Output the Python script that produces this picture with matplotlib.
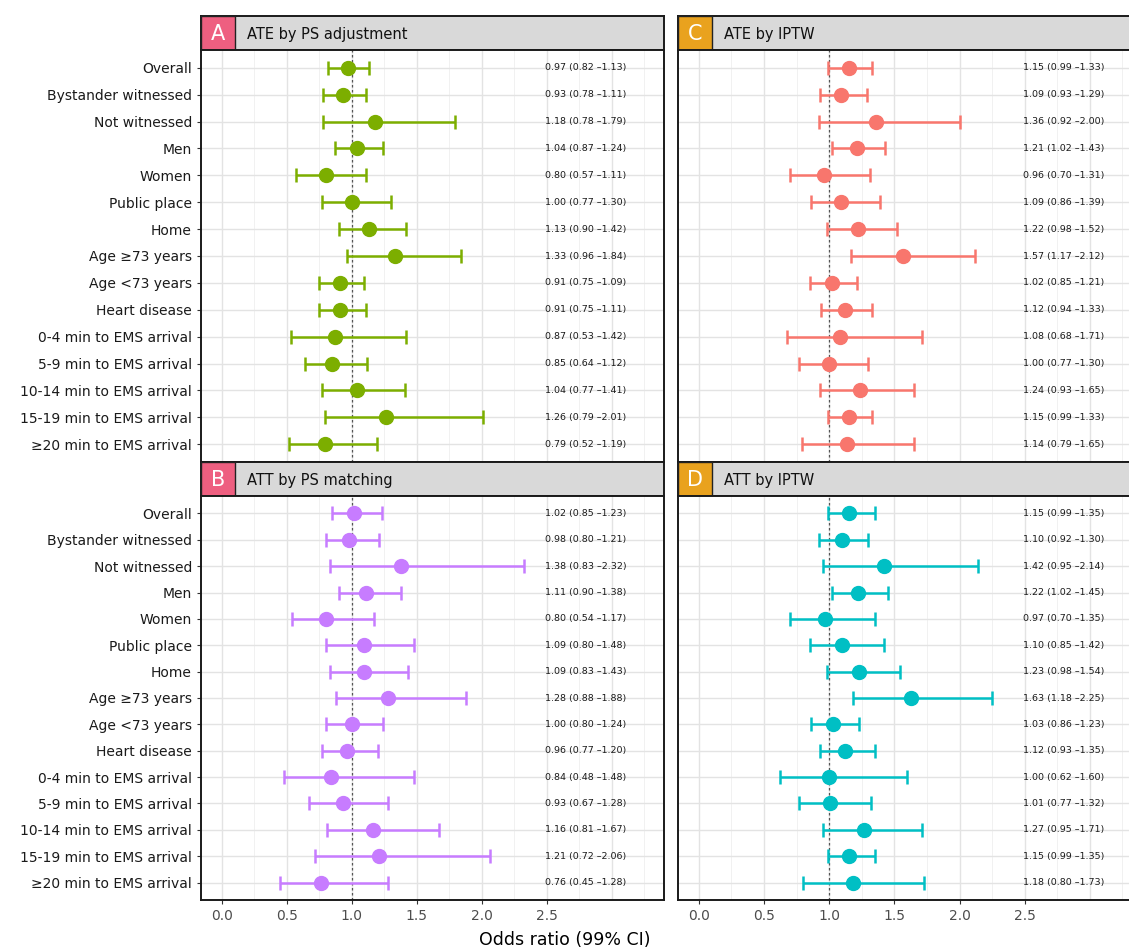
import numpy as np
import matplotlib.pyplot as plt
from matplotlib.patches import Rectangle

categories = ['Overall', 'Bystander witnessed', 'Not witnessed', 'Men', 'Women',
              'Public place', 'Home', 'Age \u226573 years', 'Age <73 years',
              'Heart disease', '0-4 min to EMS arrival', '5-9 min to EMS arrival',
              '10-14 min to EMS arrival', '15-19 min to EMS arrival',
              '\u226520 min to EMS arrival']

# A: ATE by PS adjustment
a_or = [0.97, 0.93, 1.18, 1.04, 0.80, 1.00, 1.13, 1.33, 0.91, 0.91, 0.87, 0.85, 1.04, 1.26, 0.79]
a_lo = [0.82, 0.78, 0.78, 0.87, 0.57, 0.77, 0.90, 0.96, 0.75, 0.75, 0.53, 0.64, 0.77, 0.79, 0.52]
a_hi = [1.13, 1.11, 1.79, 1.24, 1.11, 1.30, 1.42, 1.84, 1.09, 1.11, 1.42, 1.12, 1.41, 2.01, 1.19]

# B: ATT by PS matching
b_or = [1.02, 0.98, 1.38, 1.11, 0.80, 1.09, 1.09, 1.28, 1.00, 0.96, 0.84, 0.93, 1.16, 1.21, 0.76]
b_lo = [0.85, 0.80, 0.83, 0.90, 0.54, 0.80, 0.83, 0.88, 0.80, 0.77, 0.48, 0.67, 0.81, 0.72, 0.45]
b_hi = [1.23, 1.21, 2.32, 1.38, 1.17, 1.48, 1.43, 1.88, 1.24, 1.20, 1.48, 1.28, 1.67, 2.06, 1.28]

# C: ATE by IPTW
c_or = [1.15, 1.09, 1.36, 1.21, 0.96, 1.09, 1.22, 1.57, 1.02, 1.12, 1.08, 1.00, 1.24, 1.15, 1.14]
c_lo = [0.99, 0.93, 0.92, 1.02, 0.70, 0.86, 0.98, 1.17, 0.85, 0.94, 0.68, 0.77, 0.93, 0.99, 0.79]
c_hi = [1.33, 1.29, 2.00, 1.43, 1.31, 1.39, 1.52, 2.12, 1.21, 1.33, 1.71, 1.30, 1.65, 1.33, 1.65]

# D: ATT by IPTW
d_or = [1.15, 1.10, 1.42, 1.22, 0.97, 1.10, 1.23, 1.63, 1.03, 1.12, 1.00, 1.01, 1.27, 1.15, 1.18]
d_lo = [0.99, 0.92, 0.95, 1.02, 0.70, 0.85, 0.98, 1.18, 0.86, 0.93, 0.62, 0.77, 0.95, 0.99, 0.80]
d_hi = [1.35, 1.30, 2.14, 1.45, 1.35, 1.42, 1.54, 2.25, 1.23, 1.35, 1.60, 1.32, 1.71, 1.35, 1.73]

xticks = [0.0, 0.5, 1.0, 1.5, 2.0, 2.5]

W, H = 1129, 951
fig = plt.figure(figsize=(W / 100, H / 100), dpi=100)


def px_axes(left, top, right, bottom):
    return fig.add_axes([left / W, 1 - bottom / H, (right - left) / W, (bottom - top) / H])


def draw_panel(left, right, top, bottom, letter, lcolor, title, color,
               ors, los, his, show_y, show_x):
    # strip
    strip = px_axes(left, top, right, top + 34)
    strip.set_xlim(0, 1)
    strip.set_ylim(0, 1)
    strip.set_facecolor('#D9D9D9')
    strip.set_xticks([])
    strip.set_yticks([])
    for s in strip.spines.values():
        s.set_linewidth(1.4)
        s.set_color('#1A1A1A')
    bw = 34 / (right - left)
    strip.add_patch(Rectangle((0, 0), bw, 1, facecolor=lcolor, edgecolor='#222222',
                              lw=1.0, transform=strip.transAxes, zorder=3))
    strip.text(bw / 2, 0.47, letter, color='white', fontsize=15, ha='center',
               va='center', transform=strip.transAxes, zorder=4)
    strip.text(bw + 0.025, 0.47, title, fontsize=10.5, ha='left', va='center',
               transform=strip.transAxes, color='#111111')

    ax = px_axes(left, top + 34, right, bottom)
    n = len(categories)
    y = np.arange(n)
    for gx in np.arange(0.25, 3.5, 0.5):
        ax.axvline(gx, color='#EFEFEF', lw=0.6, zorder=0)
    for gx in np.arange(0, 3.1, 0.5):
        ax.axvline(gx, color='#E3E3E3', lw=1.0, zorder=0)
    for gy in y:
        ax.axhline(gy, color='#E3E3E3', lw=1.0, zorder=0)
    ax.axvline(1.0, color='#555555', lw=0.9, ls=(0, (2, 2)), zorder=1)
    o = np.array(ors)
    err = [o - np.array(los), np.array(his) - o]
    ax.errorbar(o, y, xerr=err, fmt='o', color=color, ms=10, lw=1.8,
                capsize=5, capthick=1.8, zorder=3)
    for i in range(n):
        ax.text(2.8, y[i], '%.2f (%.2f \u2013%.2f)' % (ors[i], los[i], his[i]),
                fontsize=6.8, ha='center', va='center', color='#1A1A1A')
    ax.set_xlim(-0.16, 3.4)
    ax.set_ylim(n - 1 + 0.66, -0.66)
    ax.set_yticks(y)
    ax.set_xticks(xticks)
    ax.tick_params(colors='#333333', width=0.8, length=3)
    if show_y:
        ax.set_yticklabels(categories, fontsize=10, color='#1A1A1A')
    else:
        ax.set_yticklabels([])
        ax.tick_params(axis='y', length=0)
    if show_x:
        ax.set_xticklabels(['%.1f' % t for t in xticks], fontsize=10, color='#4D4D4D')
    else:
        ax.set_xticklabels([])
        ax.tick_params(axis='x', length=0)
    for s in ax.spines.values():
        s.set_linewidth(1.4)
        s.set_color('#1A1A1A')
    return ax


pink = '#EE5F80'
orange = '#E9A21E'
draw_panel(201, 664, 16, 462, 'A', pink, 'ATE by PS adjustment', '#7CAE00',
           a_or, a_lo, a_hi, True, False)
draw_panel(201, 664, 462, 900, 'B', pink, 'ATT by PS matching', '#C77CFF',
           b_or, b_lo, b_hi, True, True)
draw_panel(678, 1142, 16, 462, 'C', orange, 'ATE by IPTW', '#F8766D',
           c_or, c_lo, c_hi, False, False)
draw_panel(678, 1142, 462, 900, 'D', orange, 'ATT by IPTW', '#00BFC4',
           d_or, d_lo, d_hi, False, True)

fig.text(565 / W, 1 - 940 / H, 'Odds ratio (99% CI)', fontsize=12.5,
         ha='center', va='center')

fig.savefig('out.png', dpi=100)
plt.close(fig)
